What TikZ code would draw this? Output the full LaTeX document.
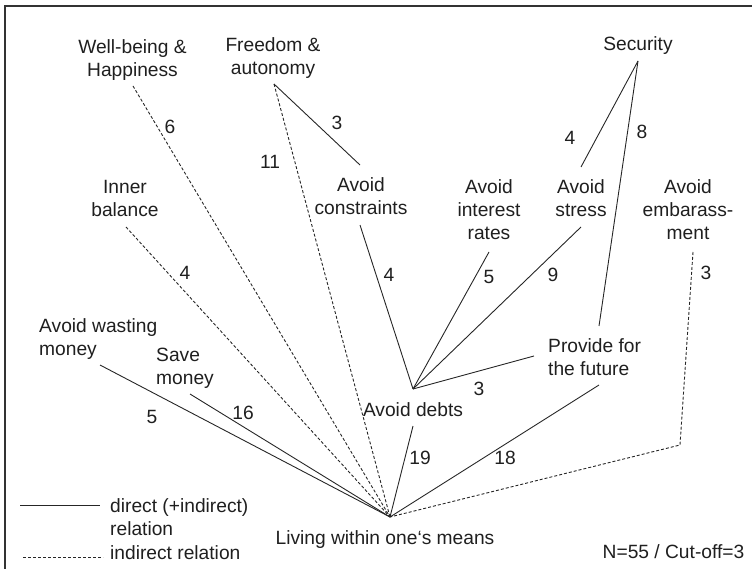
\documentclass[tikz,border=0pt]{standalone}
\usepackage{fontspec}
\setmainfont{Liberation Sans}
\begin{document}
\begin{tikzpicture}[x=1pt,y=-1pt,
  lbl/.style={font=\fontsize{19.2}{23}\selectfont, inner sep=0pt, text=black!88},
  concept/.style={lbl, anchor=north, align=center},
  lconcept/.style={lbl, anchor=north west, align=left},
  num/.style={lbl},
  rel/.style={line width=0.9pt, draw=black!85},
  ind/.style={line width=0.9pt, draw=black!85, dash pattern=on 3pt off 2pt},
  frame/.style={line width=1.8pt, draw=black!80}]
\useasboundingbox (0,0) rectangle (752,569);
\draw[frame] (4.7,569) -- (4.7,6) -- (752,6);

% concept labels
\node[concept] (wb)  at (132.5,39) {Well-being \&\\Happiness};
\node[concept] (fa)  at (273,37)   {Freedom \&\\autonomy};
\node[concept] (sec) at (638,36)   {Security};
\node[concept] (ib)  at (125,180)  {Inner\\balance};
\node[concept] (ac)  at (361,177)  {Avoid\\constraints};
\node[concept] (air) at (489,179)  {Avoid\\interest\\rates};
\node[concept] (as)  at (581,179)  {Avoid\\stress};
\node[concept] (ae)  at (688,179)  {Avoid\\embarass-\\ment};
\node[lconcept] (awm) at (39,318)  {Avoid wasting\\money};
\node[lconcept] (sm)  at (156,348) {Save\\money};
\node[lconcept] (pf)  at (548,338) {Provide for\\the future};
\node[concept] (ad)  at (413,402)  {Avoid debts};
\node[concept] (liv) at (385,530)  {Living within one‘s means};
\node[concept] (nn)  at (673.5,544) {N=55 / Cut-off=3};

% connector end points
\coordinate (hub) at (390,517);
\coordinate (adj) at (413,389);
\coordinate (wb-o) at (133,86);
\coordinate (fa-o) at (274,84);
\coordinate (ac-i) at (360,165);
\coordinate (ac-o) at (360,225);
\coordinate (ib-o) at (126,227);
\coordinate (air-o) at (489,252);
\coordinate (as-i) at (581,167);
\coordinate (as-o) at (581,227);
\coordinate (sec-o) at (638,61);
\coordinate (pf-i) at (599,326);
\coordinate (pf-l) at (534,356);
\coordinate (pf-o) at (599,385);
\coordinate (ad-o) at (413,426);
\coordinate (awm-o) at (100,365);
\coordinate (sm-o) at (190,394);
\coordinate (ae-o) at (693,252);
\coordinate (ae-k) at (680,445);

% direct relations
\draw[rel] (fa-o) -- (ac-i);
\draw[rel] (sec-o) -- (as-i);
\draw[rel] (sec-o) -- (pf-i);
\draw[rel] (ac-o) -- (adj);
\draw[rel] (air-o) -- (adj);
\draw[rel] (as-o) -- (adj);
\draw[rel] (pf-l) -- (adj);
\draw[rel] (ad-o) -- (hub);
\draw[rel] (pf-o) -- (hub);
\draw[rel] (awm-o) -- (hub);
\draw[rel] (sm-o) -- (hub);

% indirect relations
\draw[ind] (wb-o) -- (hub);
\draw[ind] (fa-o) -- (hub);
\draw[ind] (ib-o) -- (hub);
\draw[ind] (ae-o) -- (ae-k) -- (hub);

% numbers
\node[num] (n6)  at (170,127) {6};
\node[num] (n3a) at (337,123) {3};
\node[num] (n11) at (270,162) {11};
\node[num] (n4a) at (185,273) {4};
\node[num] (n4b) at (389,275) {4};
\node[num] (n5a) at (489,277) {5};
\node[num] (n9)  at (553,275) {9};
\node[num] (n4c) at (570,138) {4};
\node[num] (n8)  at (642,132) {8};
\node[num] (n3b) at (706,273) {3};
\node[num] (n3c) at (479,389) {3};
\node[num] (n5b) at (152,417) {5};
\node[num] (n16) at (243,413) {16};
\node[num] (n19) at (420,458) {19};
\node[num] (n18) at (505,458) {18};

% legend
\coordinate (lg1a) at (20,505);
\coordinate (lg1b) at (100,505);
\coordinate (lg2a) at (23,557);
\coordinate (lg2b) at (103,557);
\draw[rel] (lg1a) -- (lg1b);
\draw[ind] (lg2a) -- (lg2b);
\node[lconcept] (lgt1) at (110,498) {direct (+indirect)\\relation};
\node[lconcept] (lgt2) at (110,545) {indirect relation};
\end{tikzpicture}
\end{document}
